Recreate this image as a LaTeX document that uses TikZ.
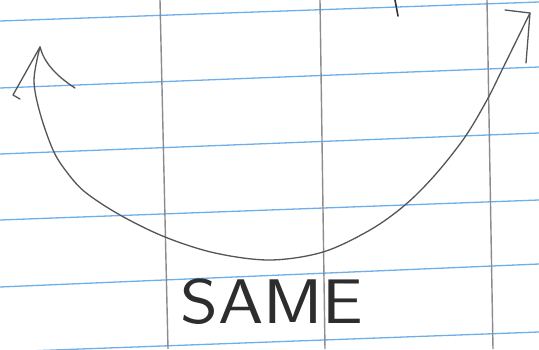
\documentclass[tikz,border=0pt]{standalone}
\definecolor{ruleblue}{RGB}{110,175,235}
\definecolor{marginline}{RGB}{140,140,140}
\definecolor{pencil}{RGB}{85,85,85}
\definecolor{ink}{RGB}{45,45,45}
\tikzset{
  bluerule/.style={draw=ruleblue, line width=1.3pt},
  vrule/.style={draw=marginline, line width=1.4pt},
  pencilline/.style={draw=pencil, line width=1.3pt, line cap=round, line join=round},
}
\begin{document}
\begin{tikzpicture}[x=1pt,y=-1pt]
\useasboundingbox[fill=white] (0,0) rectangle (539,349);
% horizontal blue ruled lines
\foreach \l/\r in {21/2, 88/67, 154/133, 220/200, 287/264, 352/332}
  \draw[bluerule] (0,\l) -- (539,\r);
% vertical gray lines
\draw[vrule] (160,0) -- (168,349);
\draw[vrule] (320,0) -- (325,349);
\draw[vrule] (487,0) -- (493,349);
% small mark at the top
\draw[pencilline, draw=black!80, line width=1.6pt] (395,0) -- (398,16);
% big curve
\coordinate (lt) at (40,47);
\coordinate (rt) at (530,13);
\draw[pencilline] plot[smooth, tension=0.55] coordinates {
  (40,47) (34,80) (40,113) (53,150) (66,171) (85,192) (120,215) (165,237) (215,253) (270,260)
  (323,252) (370,230) (405,205) (435,175) (465,137) (487,100) (502,70) (530,13)};
% left arrowhead
\draw[pencilline] (lt) -- (13,95) -- (20,99);
\draw[pencilline] (lt) .. controls (44,62) and (55,75) .. (75,88);
% right arrowhead
\draw[pencilline] (505,10) -- (rt) -- (526,63);
% label
\node[text=ink, font=\sffamily\fontsize{63}{63}\selectfont, inner sep=0pt, xscale=1.15] (lbl) at (272,302) {SAME};
\end{tikzpicture}
\end{document}
